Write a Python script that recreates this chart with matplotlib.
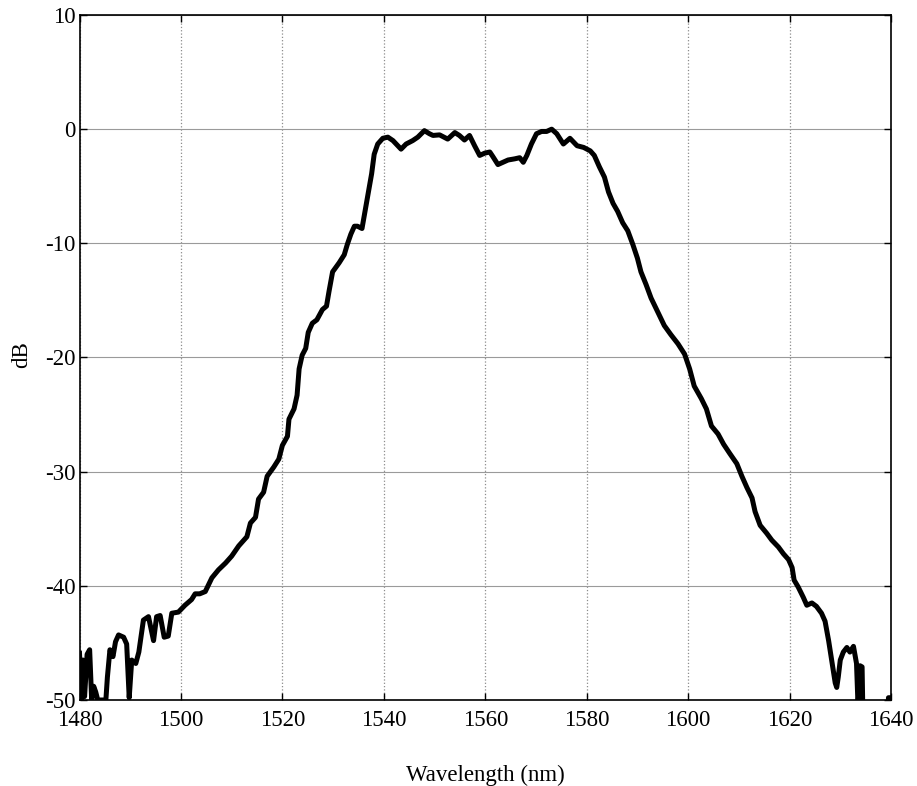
import matplotlib
matplotlib.use("Agg")
import matplotlib.pyplot as plt

plt.rcParams["font.family"] = ["Liberation Serif", "DejaVu Serif"]
plt.rcParams["axes.unicode_minus"] = False

# spectrum (nm, dB)
wavelength = [
    1480.0, 1480.4, 1480.7, 1481.0, 1481.5, 1482.0, 1482.4, 1482.8, 1483.2, 1483.6,
    1485.2, 1485.5, 1486.0, 1486.6, 1487.1, 1487.7, 1488.7, 1489.3, 1489.8, 1490.3,
    1491.1, 1491.7, 1492.6, 1493.6, 1494.6, 1495.2, 1495.9, 1496.7, 1497.5, 1498.2,
    1499.5, 1500.8, 1502.1, 1502.8, 1503.7, 1504.8, 1506.1, 1507.4, 1508.8, 1510.0,
    1511.4, 1513.0, 1513.7, 1514.7, 1515.3, 1516.3, 1517.0, 1518.3, 1519.3, 1520.0,
    1521.0, 1521.3, 1522.3, 1522.9, 1523.3, 1523.9, 1524.6, 1525.1, 1525.9, 1526.8,
    1527.9, 1528.7, 1529.2, 1529.9, 1531.2, 1532.2, 1532.8, 1533.5, 1534.2, 1534.8,
    1535.7, 1536.3, 1537.0, 1537.6, 1538.1, 1538.8, 1539.8, 1540.8, 1541.8, 1543.4,
    1544.4, 1545.7, 1546.7, 1548.0, 1549.0, 1549.7, 1551.0, 1552.6, 1554.0, 1554.9,
    1555.9, 1556.9, 1557.9, 1558.9, 1559.9, 1560.9, 1561.5, 1562.5, 1563.5, 1564.5,
    1565.8, 1566.8, 1567.5, 1568.2, 1569.1, 1570.1, 1571.1, 1572.1, 1573.1, 1574.1,
    1575.4, 1576.7, 1578.1, 1579.4, 1580.7, 1581.5, 1582.5, 1583.5, 1584.3, 1585.2,
    1586.1, 1587.1, 1588.1, 1589.1, 1590.0, 1590.7, 1591.7, 1592.7, 1594.0, 1595.3,
    1596.6, 1598.0, 1599.3, 1600.3, 1601.2, 1602.6, 1603.6, 1604.6, 1605.9, 1607.0,
    1608.2, 1609.6, 1610.6, 1611.6, 1612.6, 1613.2, 1614.2, 1615.5, 1616.5, 1617.8,
    1618.8, 1619.8, 1620.5, 1620.9, 1621.7, 1622.7, 1623.4, 1624.4, 1625.3, 1626.3,
    1627.0, 1627.7, 1628.3, 1629.0, 1629.3, 1629.6, 1630.0, 1630.6, 1631.3, 1631.9,
    1632.6, 1633.2, 1633.5, 1633.9, 1634.3, 1634.6, 1639.3, 1639.5, 1640.0,
]
power_db = [
    -45.9, -50.0, -46.5, -49.7, -46.0, -45.6, -50.0, -48.8, -49.3, -50.0,
    -50.0, -48.0, -45.6, -46.2, -44.9, -44.3, -44.5, -45.1, -49.8, -46.5,
    -46.8, -45.8, -43.0, -42.7, -44.8, -42.7, -42.6, -44.5, -44.4, -42.4,
    -42.3, -41.7, -41.2, -40.7, -40.7, -40.5, -39.3, -38.6, -38.0, -37.4,
    -36.5, -35.7, -34.5, -34.0, -32.4, -31.8, -30.4, -29.6, -28.9, -27.7,
    -26.9, -25.4, -24.5, -23.3, -21.0, -19.8, -19.2, -17.8, -17.0, -16.7,
    -15.8, -15.5, -14.2, -12.5, -11.7, -11.0, -10.1, -9.2, -8.5, -8.5,
    -8.7, -7.2, -5.4, -3.9, -2.2, -1.3, -0.8, -0.7, -1.0, -1.75,
    -1.3, -1.0, -0.7, -0.13, -0.4, -0.55, -0.5, -0.87, -0.3, -0.55,
    -0.95, -0.55, -1.45, -2.3, -2.1, -2.0, -2.4, -3.1, -2.9, -2.7,
    -2.6, -2.5, -2.9, -2.3, -1.3, -0.4, -0.2, -0.2, 0.0, -0.4,
    -1.3, -0.8, -1.45, -1.6, -1.9, -2.3, -3.3, -4.2, -5.5, -6.5,
    -7.2, -8.2, -8.9, -10.1, -11.3, -12.5, -13.6, -14.8, -16.0, -17.2,
    -18.0, -18.8, -19.7, -21.0, -22.5, -23.6, -24.5, -26.0, -26.7, -27.6,
    -28.4, -29.3, -30.4, -31.4, -32.3, -33.5, -34.7, -35.4, -36.0, -36.6,
    -37.2, -37.7, -38.4, -39.5, -40.1, -41.0, -41.7, -41.5, -41.8, -42.4,
    -43.1, -44.8, -46.5, -48.5, -48.9, -48.0, -46.5, -45.8, -45.4, -45.8,
    -45.3, -46.8, -50.5, -47.0, -47.1, -55.0, -55.0, -49.8, -49.8,
]

x_ticks = [1480, 1500, 1520, 1540, 1560, 1580, 1600, 1620, 1640]
y_ticks = [-50, -40, -30, -20, -10, 0, 10]

W, H = 917, 786
fig = plt.figure(figsize=(W / 100, H / 100), dpi=100)
ax = fig.add_axes([79.5 / W, 1 - 700 / H, (891 - 79.5) / W, 685 / H])

ax.plot(wavelength, power_db, color="black", linewidth=3.6, solid_joinstyle="round")

ax.set_xlim(1480, 1640)
ax.set_ylim(-50, 10)
ax.set_xticks(x_ticks)
ax.set_yticks(y_ticks)
# grid looks dotted on the verticals and near-solid on the horizontals
ax.xaxis.grid(True, color="#8c8c8c", linestyle=":", linewidth=0.9)
ax.yaxis.grid(True, color="#9a9a9a", linestyle="-", linewidth=0.8)
ax.set_axisbelow(True)

ax.tick_params(direction="in", top=True, right=True, length=5, width=1,
               labelsize=16.5)
ax.tick_params(axis="x", pad=7)
ax.tick_params(axis="y", pad=3)
for s in ax.spines.values():
    s.set_linewidth(1.2)

ax.set_xlabel("Wavelength (nm)", fontsize=16.5, va="center")
ax.xaxis.set_label_coords(0.5, -(775 - 700) / 685)
ax.set_ylabel("dB", fontsize=16.5, va="center", ha="center")
ax.yaxis.set_label_coords(-(79.5 - 22) / 811.5, (700 - 355) / 685)

fig.savefig("out.png", dpi=100)
